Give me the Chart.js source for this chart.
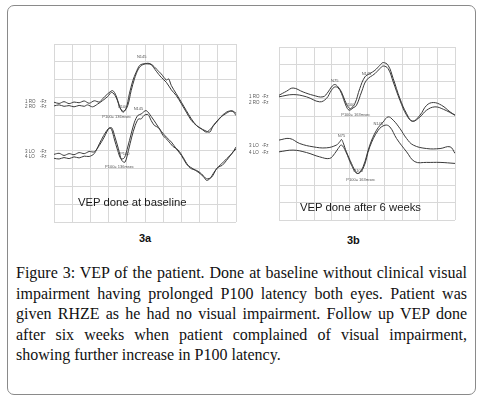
<!DOCTYPE html>
<html>
<head>
<meta charset="utf-8">
<script src="https://cdn.jsdelivr.net/npm/chart.js@4.4.1/dist/chart.umd.min.js"></script>
<style>
  body { margin: 0; background: #fff; width: 485px; height: 397px; position: relative; overflow: hidden; }
  .frame { position: absolute; left: 7px; top: 5px; width: 469px; height: 390px; border: 1.5px solid #8a8a8a; border-radius: 7px; box-sizing: border-box; }
  .panel { position: absolute; }
  .note { position: absolute; font: 11.3px "Liberation Sans", Arial, sans-serif; color: #1a1a1a; white-space: nowrap; }
  .tag { position: absolute; font: bold 11px "Liberation Sans", Arial, sans-serif; color: #111; }
  .caption { position: absolute; left: 16px; top: 263px; width: 451px; font: 16px "Liberation Serif", serif; color: #111; line-height: 20.5px; }
  .caption .j { text-align: justify; text-align-last: justify; }
</style>
</head>
<body>
<div class="frame"></div>

<div class="panel" style="left:20px;top:40px;width:220px;height:186px"><canvas id="chartA"></canvas></div>
<div class="panel" style="left:240px;top:43px;width:220px;height:181px"><canvas id="chartB"></canvas></div>

<div class="note" style="left:78px;top:196px">VEP done at baseline</div>
<div class="note" style="left:300px;top:201px">VEP done after 6 weeks</div>
<div class="tag" style="left:139px;top:232px">3a</div>
<div class="tag" style="left:347px;top:234px">3b</div>

<div class="caption">
  <div class="j">Figure 3: VEP of the patient. Done at baseline without clinical visual</div>
  <div class="j">impairment having prolonged P100 latency both eyes. Patient was</div>
  <div class="j">given RHZE as he had no visual impairment. Follow up VEP done</div>
  <div class="j">after six weeks when patient complained of visual impairment,</div>
  <div>showing further increase in P100 latency.</div>
</div>

<script>
// x = sweep position (0-100 across the 10 divisions), y = depth from top of the grid (0-100)

// 3a, baseline
const a1X = [0,2.8,5.5,8.3,11.0,13.8,16.6,19.3,22.1,24.9,26.7,29.5,32.2,34.1,35.9,37.8,39.6,41.4,43.3,45.1,47.0,48.8,51.6,53.4,56.2,58.9,61.7,64.5,67.2,70.0,72.7,75.5,78.3,81.0,83.8,86.6,89.3,92.1,94.8,97.6,100];
const a1Y = [32.7,33.4,32.4,33.5,32.6,33.0,32.0,33.3,31.9,32.6,30.8,28.0,26.2,29.0,34.6,38.3,36.4,28.0,20.6,15.9,12.1,11.2,11.2,11.6,15.3,18.7,21.5,25.8,29.0,33.6,38.3,43.0,45.8,47.7,49.5,47.1,43.9,40.7,38.9,37.4,38.9];

const a2X = [0,2.8,5.5,8.3,11.0,13.8,16.6,18.4,21.2,23.9,26.7,29.5,31.7,34.1,36.5,38.3,40.5,42.4,44.2,46.4,48.8,51.6,53.8,56.2,58.9,61.7,63.0,64.5,67.2,70.0,72.7,75.5,78.3,80.1,82.9,85.6,87.5,90.2,93.0,95.8,98.5,100];
const a2Y = [34.8,34.2,35.0,34.6,35.3,34.5,35.0,34.2,35.3,33.8,31.8,29.5,27.1,29.9,36.4,37.8,34.6,26.2,19.6,14.0,11.6,10.8,11.6,14.0,16.8,20.2,19.6,23.4,28.0,32.7,37.4,42.1,45.8,47.1,48.6,49.5,45.8,42.6,39.6,37.8,38.1,40.2];

const a3X = [0,2.8,5.5,8.3,11.0,13.8,16.6,19.3,22.1,24.9,27.6,30.4,31.7,33.1,35.0,36.8,38.7,40.5,42.4,44.2,46.0,47.9,50.6,53.4,56.2,58.9,61.7,64.5,67.2,70.0,72.7,75.5,78.3,81.0,83.8,86.6,89.3,92.1,94.8,97.6,100];
const a3Y = [62.0,61.4,62.6,61.6,62.2,61.0,61.6,60.4,60.6,57.0,52.3,47.1,48.2,53.3,59.8,64.5,63.9,57.9,50.5,43.9,40.2,39.3,37.4,40.7,44.9,49.0,52.3,55.1,58.9,62.6,67.3,70.1,71.0,72.9,75.7,74.8,70.1,67.3,64.5,61.7,57.9];

const a4X = [0,2.8,5.5,8.3,11.0,13.8,16.6,19.3,22.1,24.9,27.3,29.8,31.7,33.5,35.4,37.2,39.0,40.9,42.7,44.6,46.4,47.9,49.4,51.6,53.4,55.2,57.5,59.9,62.6,65.4,68.1,70.9,73.7,76.4,79.2,82.0,83.8,85.6,88.0,90.2,92.4,94.8,97.6,100];
const a4Y = [64.2,64.6,63.8,64.4,63.4,64.0,63.0,63.2,61.6,56.1,51.4,47.7,47.1,52.3,58.9,65.4,66.4,59.8,52.3,45.8,42.1,42.1,40.2,39.6,43.0,45.8,47.1,51.4,54.2,57.6,59.4,63.6,68.2,70.1,72.0,74.4,76.6,75.7,72.0,69.2,68.2,65.4,61.7,58.9];

// 3b, after 6 weeks
const b1X = [0,4.2,8.0,13.7,19.4,25.0,27.9,29.8,31.7,33.6,35.5,37.4,39.3,40.6,43.1,45.9,48.8,51.6,54.5,57.3,59.2,62.0,64.9,68.7,72.5,75.9,80.1,83.9,87.7,92.4,97.2,100];
const b1Y = [27.9,25.6,23.7,26.0,27.9,28.8,26.0,23.1,21.7,23.1,26.0,30.8,34.6,35.6,32.7,24.0,17.3,15.4,13.5,10.6,9.0,10.6,18.3,29.8,38.5,42.9,39.4,33.7,32.1,33.7,37.5,39.4];

const b2X = [0,8.0,15.6,23.1,26.9,29.8,31.7,33.6,35.5,38.0,39.8,42.1,44.0,46.9,49.7,54.5,57.3,59.2,62.0,64.9,68.7,72.5,75.9,80.1,83.9,88.6,93.4,100];
const b2Y = [28.8,27.5,28.8,31.7,29.8,25.0,23.1,23.7,26.9,33.7,36.5,35.2,33.7,26.0,19.2,15.4,12.5,11.0,12.5,20.2,30.8,39.4,42.9,40.4,36.5,34.6,36.0,39.4];

const b3X = [0,6.1,11.8,19.4,26.9,32.6,34.5,35.5,36.4,38.3,41.2,43.1,45.0,47.8,51.6,55.4,59.2,62.0,64.9,68.7,72.5,76.3,83.9,91.5,97.2,100];
const b3Y = [53.8,52.9,55.8,57.7,58.3,56.7,54.8,53.5,55.2,60.6,67.3,71.2,73.1,69.2,56.7,48.1,43.3,40.4,42.3,47.1,52.9,56.7,58.7,58.7,57.7,61.5];

const b4X = [0,8.0,15.6,23.1,28.8,31.7,33.6,35.5,38.0,41.2,44.4,47.8,51.6,56.4,60.2,63.0,66.8,72.5,77.2,83.9,91.5,100];
const b4Y = [60.6,59.6,61.0,63.5,64.4,61.5,58.7,56.7,60.6,68.3,73.1,70.2,57.7,48.1,45.2,46.2,52.9,60.6,66.3,66.7,66.7,67.3];

const channelsA = ['1 RO', '2 RO', '3 LO', '4 LO'];
const channelsB = ['1 RO', '2 RO', '3 LO', '4 LO'];
// depth of the channel names on the left of each grid
const labelDepthA = [32.6, 35.4, 60.7, 63.5];
const labelDepthB = [28.9, 32.1, 57.0, 60.9];

// peak cursors and latency readouts
const marksA = [
  { x: 37.8, y: 35.2, text: 'P100' }, { x: 48.2, y: 7.5, text: 'N145' },
  { x: 38.9, y: 62.0, text: 'P100' }, { x: 46.4, y: 36.2, text: 'N145' },
  { x: 34.5, y: 41.2, text: 'P100= 136msec' }, { x: 36.0, y: 69.3, text: 'P100= 136msec' }
];
const marksB = [
  { x: 31.7, y: 19.8, text: 'N75' }, { x: 40.2, y: 33.6, text: 'P100' }, { x: 49.7, y: 15.4, text: 'N145' },
  { x: 35.5, y: 51.6, text: 'N75' }, { x: 45.0, y: 71.6, text: 'P100' }, { x: 56.4, y: 44.6, text: 'N145' },
  { x: 43.6, y: 39.0, text: 'P100= 163msec' }, { x: 46.5, y: 76.9, text: 'P100= 163msec' }
];

function pts(xs, ys) {
  return xs.map((x, i) => ({ x: x, y: ys[i] }));
}

const traceText = {
  id: 'traceText',
  afterDatasetsDraw(chart, args, opts) {
    const ctx = chart.ctx;
    const xs = chart.scales.x, ys = chart.scales.y;
    const left = chart.chartArea.left;
    ctx.save();
    ctx.fillStyle = '#555';
    ctx.font = '4.5px "Liberation Sans", Arial, sans-serif';
    ctx.textBaseline = 'middle';
    ctx.textAlign = 'left';
    chart.data.datasets.forEach((ds, i) => {
      const y = ys.getPixelForValue(opts.labelDepth[i]);
      ctx.fillText(ds.label, left - opts.nameOffset, y);
      ctx.fillText('-Fz', left - opts.fzOffset, y);
    });
    ctx.textAlign = 'center';
    ctx.font = '4px "Liberation Sans", Arial, sans-serif';
    opts.marks.forEach(m => {
      ctx.fillText(m.text, xs.getPixelForValue(m.x), ys.getPixelForValue(m.y));
    });
    ctx.restore();
  }
};

function makeChart(id, traces, labels, labelDepth, marks, padding, nameOffset, fzOffset, tension) {
  const gridOpts = { color: '#d8d8d8', lineWidth: 1, drawTicks: false };
  new Chart(document.getElementById(id), {
    type: 'line',
    data: {
      datasets: traces.map((t, i) => ({
        label: labels[i],
        data: t,
        borderColor: '#3a3a3a',
        borderWidth: 1,
        pointRadius: 0,
        tension: tension,
        fill: false
      }))
    },
    options: {
      responsive: true,
      maintainAspectRatio: false,
      animation: false,
      devicePixelRatio: 1,
      layout: { padding: padding },
      plugins: {
        legend: { display: false },
        tooltip: { enabled: false },
        traceText: { marks: marks, labelDepth: labelDepth, nameOffset: nameOffset, fzOffset: fzOffset }
      },
      scales: {
        x: {
          type: 'linear', min: 0, max: 100,
          ticks: { display: false, stepSize: 10 },
          grid: gridOpts,
          border: { display: false }
        },
        y: {
          type: 'linear', min: 0, max: 100, reverse: true,
          ticks: { display: false, stepSize: 10 },
          grid: gridOpts,
          border: { display: false }
        }
      }
    },
    plugins: [traceText]
  });
}

makeChart('chartA',
  [pts(a1X, a1Y), pts(a2X, a2Y), pts(a3X, a3Y), pts(a4X, a4Y)],
  channelsA, labelDepthA, marksA,
  { left: 34, right: 4, top: 4, bottom: 4 }, 29, 14, 0.3);

makeChart('chartB',
  [pts(b1X, b1Y), pts(b2X, b2Y), pts(b3X, b3Y), pts(b4X, b4Y)],
  channelsB, labelDepthB, marksB,
  { left: 39, right: 5, top: 4, bottom: 4 }, 30, 17, 0.4);
</script>
</body>
</html>
